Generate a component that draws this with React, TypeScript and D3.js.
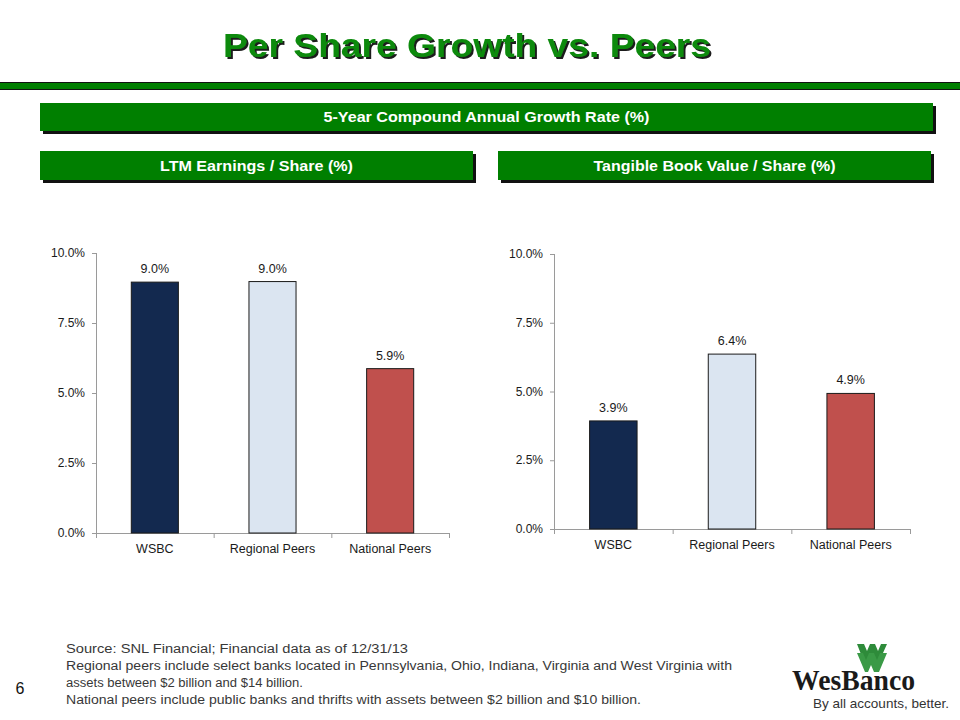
import React, { useEffect } from "react";
import * as d3 from "d3";

const categories = ["WSBC", "Regional Peers", "National Peers"];
const epsGrowth = [8.96, 8.98, 5.87];
const tbvGrowth = [3.93, 6.36, 4.93];
const yTicks = [0, 2.5, 5, 7.5, 10];
const barColors = ["#13294f", "#dbe5f1", "#c0504d"];

const footLines = [
  "Source: SNL Financial; Financial data as of 12/31/13",
  "Regional peers include select banks located in Pennsylvania, Ohio, Indiana, Virginia and West Virginia with",
  "assets between $2 billion and $14 billion.",
  "National peers include public banks and thrifts with assets between $2 billion and $10 billion.",
];
const footWidths = [342, 666, 237, 575];

const GREEN = "#007f00";
const fmt = d3.format(".1f");

function BarPanel({ x0, x1, yTop, yBot, values }: { x0: number; x1: number; yTop: number; yBot: number; values: number[] }) {
  const x = d3.scaleBand<string>().domain(categories).range([x0, x1]).padding(0);
  const y = d3.scaleLinear().domain([0, 10]).range([yBot, yTop]);
  const bw = x.bandwidth() * 0.4;
  const axisColor = "#9a9a9a";
  const bounds = [x0, ...categories.map((c) => (x(c) as number) + x.bandwidth())];
  return (
    <g>
      <line x1={x0 + 0.5} x2={x0 + 0.5} y1={yTop} y2={yBot} stroke={axisColor} strokeWidth={1} />
      <line x1={x0 - 4} x2={x1} y1={yBot + 0.5} y2={yBot + 0.5} stroke={axisColor} strokeWidth={1} />
      {yTicks.map((t) => (
        <g key={t}>
          <line x1={x0 - 4} x2={x0} y1={y(t) + 0.5} y2={y(t) + 0.5} stroke={axisColor} />
          <text x={x0 - 11} y={y(t) + 4} textAnchor="end" fontSize={12} fill="#1a1a1a" fontFamily="Liberation Sans, Arial, sans-serif">
            {fmt(t) + "%"}
          </text>
        </g>
      ))}
      {bounds.map((b, i) => (
        <line key={i} x1={b + 0.5} x2={b + 0.5} y1={yBot} y2={yBot + 5} stroke={axisColor} />
      ))}
      {categories.map((c, i) => {
        const cx = (x(c) as number) + x.bandwidth() / 2;
        const top = y(values[i]);
        return (
          <g key={c}>
            <rect x={cx - bw / 2} y={top} width={bw} height={yBot - top} fill={barColors[i]} stroke="#1a1a1a" strokeWidth={1} />
            <text x={cx} y={top - 9} textAnchor="middle" fontSize={12.5} fill="#1a1a1a" fontFamily="Liberation Sans, Arial, sans-serif">
              {fmt(values[i]) + "%"}
            </text>
            <text x={cx} y={yBot + 20} textAnchor="middle" fontSize={12.5} fill="#1a1a1a" fontFamily="Liberation Sans, Arial, sans-serif">
              {c}
            </text>
          </g>
        );
      })}
    </g>
  );
}

function Header({ x, y, w, h, label, tw }: { x: number; y: number; w: number; h: number; label: string; tw: number }) {
  return (
    <g>
      <rect x={x + 3} y={y + 3} width={w} height={h} fill="#111" />
      <rect x={x} y={y} width={w} height={h} fill={GREEN} />
      <text
        x={x + w / 2}
        y={y + h / 2 + 5}
        textAnchor="middle"
        fontSize={14.5}
        fontWeight="bold"
        fill="#fff"
        fontFamily="Liberation Sans Narrow, Arial Narrow, Liberation Sans, Arial, sans-serif"
        textLength={tw}
        lengthAdjust="spacingAndGlyphs"
      >
        {label}
      </text>
    </g>
  );
}

export default function App() {
  useEffect(() => {
    document.body.style.margin = "0";
  }, []);
  return (
    <svg width={960} height={720} style={{ position: "absolute", left: 0, top: 0, background: "#fff" }}>
      <defs>
        <filter id="tshadow" x="-5%" y="-20%" width="110%" height="150%">
          <feDropShadow dx={2} dy={2} stdDeviation={0.4} floodColor="#1a1a1a" floodOpacity={1} />
        </filter>
      </defs>
      <rect x={0} y={0} width={960} height={720} fill="#fff" />
      {/* Title */}
      <text x={467} y={57} textAnchor="middle" fontSize={33} fontWeight="bold" fill="#0a8a0a" filter="url(#tshadow)"
        fontFamily="Liberation Sans, Arial, sans-serif" textLength={488} lengthAdjust="spacingAndGlyphs">
        Per Share Growth vs. Peers
      </text>
      <rect x={-1} y={82.5} width={962} height={7} fill={GREEN} stroke="#111" strokeWidth={1} />

      <Header x={40} y={103} w={893} h={28} label="5-Year Compound Annual Growth Rate (%)" tw={326} />
      <Header x={40} y={151} w={433} h={29} label="LTM Earnings / Share (%)" tw={193} />
      <Header x={498} y={151} w={433} h={29} label="Tangible Book Value / Share (%)" tw={242} />

      <BarPanel x0={96} x1={449} yTop={253} yBot={533} values={epsGrowth} />
      <BarPanel x0={554} x1={910} yTop={254} yBot={529} values={tbvGrowth} />

      {/* Footnotes */}
      {footLines.map((l, i) => (
        <text key={i} x={66} y={653 + i * 17} fontSize={12} fill="#383838" fontFamily="Liberation Sans, Arial, sans-serif"
          textLength={footWidths[i]} lengthAdjust="spacingAndGlyphs">
          {l}
        </text>
      ))}
      <text x={20} y={694} fontSize={16} fill="#111" textAnchor="middle" fontFamily="Liberation Sans, Arial, sans-serif">6</text>

      {/* Logo */}
      <g>
        <polygon points="857,644 864,644 867,651 870,644 875,644 878,651 881,644 887,644 879,662 874,662 871,655 868,662 864,662" fill="#2e8b3a" />
        <polygon points="857,653 863,653 866,660 869,653 874,653 877,660 880,653 887,653 879,672 874,672 871,665 868,672 865,672" fill="#3a9a46" />
        <text x={792} y={690} fontSize={29} fontWeight="bold" fill="#1a1a1a" fontFamily="Liberation Serif, Times New Roman, serif"
          textLength={123} lengthAdjust="spacingAndGlyphs">
          WesBanco
        </text>
        <text x={813} y={708} fontSize={13.5} fill="#333" fontFamily="Liberation Sans Narrow, Arial Narrow, Liberation Sans, sans-serif"
          textLength={136} lengthAdjust="spacingAndGlyphs">
          By all accounts, better.
        </text>
      </g>
    </svg>
  );
}
